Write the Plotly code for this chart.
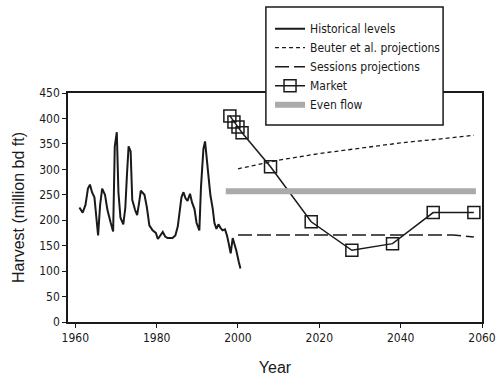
import plotly.graph_objects as go

# Historical levels (year, million bd ft)
hist_years = [1961.0, 1961.8, 1962.5, 1963.1, 1963.6, 1964.1, 1964.7, 1965.1, 1965.6, 1966.1,
              1966.6, 1967.3, 1967.9, 1968.7, 1969.3, 1969.7, 1970.2, 1970.6, 1971.1, 1971.8,
              1972.3, 1972.7, 1973.1, 1973.6, 1974.0, 1974.7, 1975.2, 1975.7, 1976.1, 1977.0,
              1977.6, 1978.2, 1979.0, 1979.8, 1980.3, 1980.9, 1981.5, 1982.1, 1982.7, 1983.9,
              1984.6, 1985.2, 1985.6, 1986.1, 1986.6, 1987.1, 1987.6, 1988.2, 1988.7, 1989.3,
              1989.8, 1990.5, 1990.9, 1991.5, 1991.9, 1992.3, 1992.8, 1993.2, 1993.8, 1994.2,
              1994.7, 1995.2, 1995.7, 1996.2, 1996.8, 1997.3, 1997.7, 1998.2, 1998.7, 1999.1,
              1999.6, 2000.2, 2000.6]
hist_values = [225, 215, 230, 262, 270, 255, 245, 205, 170, 230,
               262, 250, 220, 195, 178, 345, 373, 255, 205, 192,
               225, 290, 345, 335, 240, 220, 210, 235, 258, 250,
               225, 190, 180, 175, 163, 170, 177, 168, 165, 165,
               170, 188, 210, 245, 255, 243, 238, 252, 235, 222,
               195, 180, 265, 340, 355, 320, 280, 250, 222, 195,
               183, 192, 185, 180, 182, 170, 155, 135, 165, 155,
               140, 118, 105]

beuter_years = [2000, 2010, 2020, 2030, 2040, 2050, 2058]
beuter_values = [301, 318, 331, 342, 352, 360, 367]

sessions_years = [2000, 2053, 2058]
sessions_values = [171, 171, 167]

market_years = [1998, 1999, 2000, 2001, 2008, 2018, 2028, 2038, 2048, 2058]
market_values = [405, 393, 383, 372, 305, 197, 141, 154, 215, 215]

even_years = [1997, 2058.5]
even_values = [257, 257]

x_ticks = [1960, 1980, 2000, 2020, 2040, 2060]
y_ticks = [0, 50, 100, 150, 200, 250, 300, 350, 400, 450]

narrow = "Liberation Sans Narrow, Arial Narrow, DejaVu Sans Condensed, sans-serif"
regular = "Liberation Sans, Arial, sans-serif"
ink = "#1a1a1a"

fig = go.Figure()
fig.add_trace(go.Scatter(x=hist_years, y=hist_values, mode="lines", name="Historical levels",
                         line=dict(color=ink, width=2)))
fig.add_trace(go.Scatter(x=beuter_years, y=beuter_values, mode="lines", name="Beuter et al. projections",
                         line=dict(color=ink, width=1.3, dash="4px,3px")))
fig.add_trace(go.Scatter(x=sessions_years, y=sessions_values, mode="lines", name="Sessions projections",
                         line=dict(color=ink, width=1.5, dash="14px,5px")))
fig.add_trace(go.Scatter(x=market_years, y=market_values, mode="lines+markers", name="Market",
                         line=dict(color=ink, width=1.5),
                         marker=dict(symbol="square-open", size=12, color=ink,
                                     line=dict(width=1.5, color=ink))))
fig.add_trace(go.Scatter(x=even_years, y=even_values, mode="lines", name="Even flow",
                         line=dict(color="#aaaaaa", width=6)))

# legend frame (white box that sits over the top of the plot frame)
fig.add_shape(type="rect", xref="paper", yref="paper", x0=0.478, x1=0.906, y0=0.860, y1=1.3755,
              fillcolor="white", line=dict(color=ink, width=1.5), layer="above")

fig.update_layout(
    width=496, height=381,
    margin=dict(l=68, r=14, t=93, b=59, autoexpand=False),
    paper_bgcolor="white", plot_bgcolor="white",
    showlegend=True,
    legend=dict(x=0.488, y=1.344, xanchor="left", yanchor="top",
                bgcolor="rgba(0,0,0,0)", borderwidth=0,
                font=dict(family=narrow, size=12, color=ink),
                itemwidth=30, tracegroupgap=0),
    xaxis=dict(range=[1958.2, 2060], tickvals=x_ticks, showgrid=False, zeroline=False,
               showline=True, linecolor=ink, linewidth=1.5, mirror=True,
               ticks="outside", ticklen=4, tickcolor=ink, ticklabeloverflow="allow",
               tickfont=dict(family=narrow, size=12, color=ink),
               title=dict(text="Year", font=dict(family=regular, size=16, color=ink), standoff=18)),
    yaxis=dict(range=[0, 450], tickvals=y_ticks, showgrid=False, zeroline=False,
               showline=True, linecolor=ink, linewidth=1.5, mirror=True,
               ticks="outside", ticklen=4, tickcolor=ink,
               tickfont=dict(family=narrow, size=12, color=ink),
               title=dict(text="Harvest (million bd ft)", font=dict(family=regular, size=16, color=ink), standoff=11)),
)

fig.write_html("out.html")
